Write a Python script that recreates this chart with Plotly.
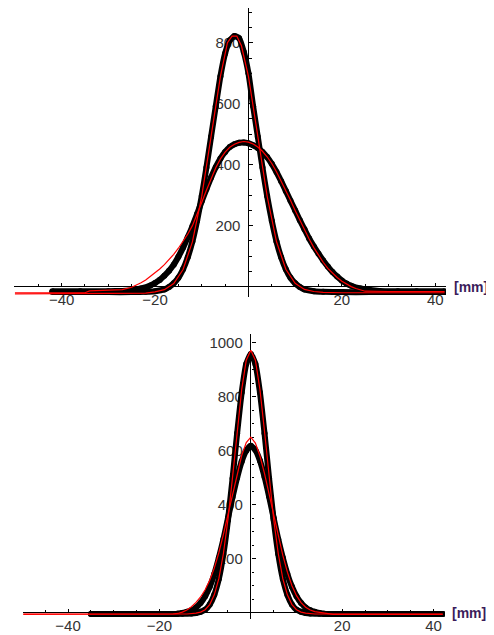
import plotly.graph_objects as go

# ---------------- data ----------------
# top panel, measured profiles (black dots)
top_narrow_x = [-42, -36, -30, -25, -22, -20, -18, -17, -16, -15, -14, -13, -12, -11, -10, -9, -8, -7, -6, -5, -4, -3, -2, -1, 0, 1, 2, 3, 4, 5, 6, 7, 8, 9, 10, 11, 12, 14, 16, 20, 26, 32, 36, 42]
top_narrow_y = [-18, -18, -18, -18, -17, -15, -9, -1, 11, 29, 57, 96, 148, 216, 297, 391, 492, 592, 690, 765, 808, 822, 815, 770, 700, 592, 492, 391, 297, 216, 148, 96, 57, 29, 11, -1, -9, -15, -17, -18, -18, -18, -18, -18]

top_wide_x = [-42, -36, -30, -27, -25, -23, -21, -20, -19, -18, -17, -16, -15, -14, -13, -12, -11, -10, -9, -8, -7, -6, -5, -4, -3, -2, -1, 0, 1, 2, 3, 4, 5, 6, 7, 8, 9, 10, 11, 12, 13, 14, 15, 16, 17, 18, 19, 20, 21, 22, 24, 26, 28, 32, 36, 42]
top_wide_y = [-15, -15, -15, -14, -12, -6, 4, 12, 22, 36, 52, 72, 98, 128, 162, 198, 238, 280, 320, 358, 392, 420, 442, 458, 467, 472, 473, 470, 464, 455, 442, 425, 403, 376, 346, 314, 282, 250, 218, 188, 158, 132, 108, 86, 66, 48, 33, 20, 10, 3, -6, -11, -14, -15, -15, -15]

# top panel, fitted curves (red)
top_narrow_fit_x = [-50, -42, -30, -22, -20, -18, -16, -14, -12, -10, -8, -6, -4.5, -3.5, -2.5, -1.5, 0, 2, 4, 6, 8, 10, 12, 14, 16, 20, 30, 42]
top_narrow_fit_y = [-24, -24, -22, -21, -17, -10, 10, 56, 147, 296, 490, 690, 800, 822, 822, 790, 690, 492, 297, 148, 57, 11, -9, -16, -19, -20, -20, -20]

top_wide_fit_x = [-50, -42, -35, -34, -30, -27, -25, -24, -23, -22, -21, -20, -19, -18, -17, -16, -15, -14, -13, -12, -11, -10, -9, -8, -7, -6, -5, -4, -3, -2, -1, 0, 1, 2, 3, 4, 5, 6, 7, 8, 9, 10, 11, 12, 13, 14, 15, 16, 17, 18, 19, 20, 21, 22, 23, 24, 25, 30, 42]
top_wide_fit_y = [-20, -20, -20, -14, -13, -10, -2, 5, 13, 22, 33, 45, 58, 72, 88, 106, 126, 148, 172, 200, 236, 276, 316, 355, 390, 419, 441, 457, 467, 473, 476, 474, 468, 458, 444, 426, 404, 377, 347, 315, 283, 250, 218, 186, 156, 128, 102, 80, 60, 44, 30, 18, 8, 0, -6, -11, -15, -16, -16]

# bottom panel, measured profiles (black dots)
bottom_narrow_x = [-35, -30, -25, -20, -17, -15, -13, -12, -11, -10, -9, -8, -7, -6, -5, -4, -3, -2, -1, 0, 1, 2, 3, 4, 5, 6, 7, 8, 9, 10, 11, 12, 13, 15, 17, 20, 25, 30, 35, 42]
bottom_narrow_y = [-5, -5, -5, -5, -5, -4, -3, -1, 3, 11, 30, 66, 125, 217, 343, 497, 664, 815, 921, 958, 921, 815, 664, 497, 343, 217, 125, 66, 30, 11, 3, -1, -3, -4, -5, -5, -5, -5, -5, -5]

bottom_wide_x = [-35, -30, -25, -20, -17, -16, -15, -14, -13, -12, -11, -10, -9, -8, -7, -6, -5, -4, -3, -2, -1, 0, 1, 2, 3, 4, 5, 6, 7, 8, 9, 10, 11, 12, 13, 14, 15, 16, 17, 20, 25, 30, 35, 42]
bottom_wide_y = [-5, -5, -5, -5, -5, -4, -1, 3, 9, 19, 36, 61, 96, 143, 203, 272, 350, 428, 500, 560, 600, 618, 602, 563, 503, 430, 350, 272, 203, 143, 96, 61, 36, 19, 9, 3, -1, -4, -5, -5, -5, -5, -5, -5]

# bottom panel, fitted curves (red)
bottom_narrow_fit_x = [-50, -20, -14, -12, -11, -10, -9, -8, -7, -6, -5, -4, -3, -2, -1, 0, 1, 2, 3, 4, 5, 6, 7, 8, 9, 10, 11, 12, 14, 20, 42]
bottom_narrow_fit_y = [-5, -5, -5, -2, 2, 11, 30, 66, 126, 219, 346, 502, 671, 826, 935, 972, 935, 826, 671, 502, 346, 219, 126, 66, 30, 11, 2, -2, -5, -5, -5]

bottom_wide_fit_x = [-50, -20, -17, -16, -15, -14, -13, -12, -11, -10, -9, -8, -7, -6, -5, -4, -3, -2, -1, 0, 1, 2, 3, 4, 5, 6, 7, 8, 9, 10, 11, 12, 13, 14, 16, 18, 42]
bottom_wide_fit_y = [-6, -6, -5, -3, 2, 10, 22, 38, 58, 85, 120, 165, 222, 290, 365, 443, 518, 582, 630, 650, 628, 580, 515, 440, 360, 283, 212, 150, 100, 63, 37, 20, 10, 4, -2, -6, -6]

# ticks and labels
x_tick_vals = [-40, -20, 20, 40]
x_minor_tick_vals = [-45, -35, -30, -25, -15, -10, -5, 5, 10, 15, 25, 30, 35]
top_y_tick_vals = [200, 400, 600, 800]
bottom_y_tick_vals = [200, 400, 600, 800, 1000]
y_minor_step = 50
unit_label = "[mm]"

# ---------------- layout helpers ----------------
W, H = 494, 635          # browser window
OFF = 8                  # default page margin around the plot div
FW, FH = W - OFF, H - OFF

def xdom(px0, px1):      # page pixels -> paper fraction
    return [(px0 - OFF) / FW, (px1 - OFF) / FW]

def ydom(py_top, py_bot):
    return [1 - (py_bot - OFF) / FH, 1 - (py_top - OFF) / FH]

top_xr = [-50.2, 42.3]
top_yr = [-34, 914]
top_xd = xdom(14, 446)
top_yd = ydom(8, 297)

bot_xr = [-49.8, 42.5]
bot_yr = [-22, 1032]
bot_xd = xdom(23.3, 445)
bot_yd = ydom(334, 618.6)

def zero_pos(rng, dom):
    return dom[0] + (0 - rng[0]) / (rng[1] - rng[0]) * (dom[1] - dom[0])

fig = go.Figure()

def data_trace(x, y, xa, ya):
    fig.add_trace(go.Scatter(x=x, y=y, xaxis=xa, yaxis=ya, mode="lines+markers",
                             line=dict(color="black", width=6, shape="spline", smoothing=0.5),
                             marker=dict(color="black", size=6),
                             hoverinfo="skip", showlegend=False))

def fit_trace(x, y, xa, ya):
    fig.add_trace(go.Scatter(x=x, y=y, xaxis=xa, yaxis=ya, mode="lines",
                             line=dict(color="#ff0000", width=1.2),
                             hoverinfo="skip", showlegend=False))

data_trace(top_narrow_x, top_narrow_y, "x", "y")
data_trace(top_wide_x, top_wide_y, "x", "y")
data_trace(bottom_narrow_x, bottom_narrow_y, "x2", "y2")
data_trace(bottom_wide_x, bottom_wide_y, "x2", "y2")
fit_trace(top_narrow_fit_x, top_narrow_fit_y, "x", "y")
fit_trace(top_wide_fit_x, top_wide_fit_y, "x", "y")
fit_trace(bottom_narrow_fit_x, bottom_narrow_fit_y, "x2", "y2")
fit_trace(bottom_wide_fit_x, bottom_wide_fit_y, "x2", "y2")

tick_font = dict(family="Liberation Sans, Arial, sans-serif", size=15, color="#333333")

def xaxis_cfg(rng, dom, pos):
    return dict(range=rng, domain=dom, anchor="free", position=pos,
                showgrid=False, showline=False,
                zeroline=True, zerolinecolor="black", zerolinewidth=1,
                tickmode="array", tickvals=x_tick_vals,
                ticks="inside", ticklen=4, tickwidth=1, tickcolor="black",
                minor=dict(tickmode="array", tickvals=x_minor_tick_vals,
                           ticks="inside", ticklen=2.5, tickwidth=1, tickcolor="black"),
                tickfont=tick_font, ticklabelstandoff=2,
                layer="below traces", fixedrange=True)

def yaxis_cfg(rng, dom, pos, vals):
    return dict(range=rng, domain=dom, anchor="free", position=pos, side="left",
                showgrid=False, showline=False,
                zeroline=True, zerolinecolor="black", zerolinewidth=1,
                tickmode="array", tickvals=vals,
                ticks="inside", ticklen=4, tickwidth=1, tickcolor="black",
                minor=dict(dtick=y_minor_step, tick0=0,
                           ticks="inside", ticklen=2.5, tickwidth=1, tickcolor="black"),
                tickfont=tick_font, ticklabelstandoff=8,
                layer="below traces", fixedrange=True)

unit_font = dict(family="Liberation Sans, Arial, sans-serif", size=14, color="#3b1c5a")

fig.update_layout(
    width=FW, height=FH,
    margin=dict(l=0, r=0, t=0, b=0),
    paper_bgcolor="white", plot_bgcolor="rgba(0,0,0,0)",
    xaxis=xaxis_cfg(top_xr, top_xd, zero_pos(top_yr, top_yd)),
    yaxis=yaxis_cfg(top_yr, top_yd, zero_pos(top_xr, top_xd), top_y_tick_vals),
    xaxis2=xaxis_cfg(bot_xr, bot_xd, zero_pos(bot_yr, bot_yd)),
    yaxis2=yaxis_cfg(bot_yr, bot_yd, zero_pos(bot_xr, bot_xd), bottom_y_tick_vals),
    annotations=[
        dict(text="<b>" + unit_label + "</b>", xref="paper", yref="paper",
             x=(452 - OFF) / FW, y=zero_pos(top_yr, top_yd), xanchor="left", yanchor="middle",
             showarrow=False, font=unit_font),
        dict(text="<b>" + unit_label + "</b>", xref="paper", yref="paper",
             x=(450 - OFF) / FW, y=zero_pos(bot_yr, bot_yd), xanchor="left", yanchor="middle",
             showarrow=False, font=unit_font),
    ],
)

fig.write_html("out.html")
